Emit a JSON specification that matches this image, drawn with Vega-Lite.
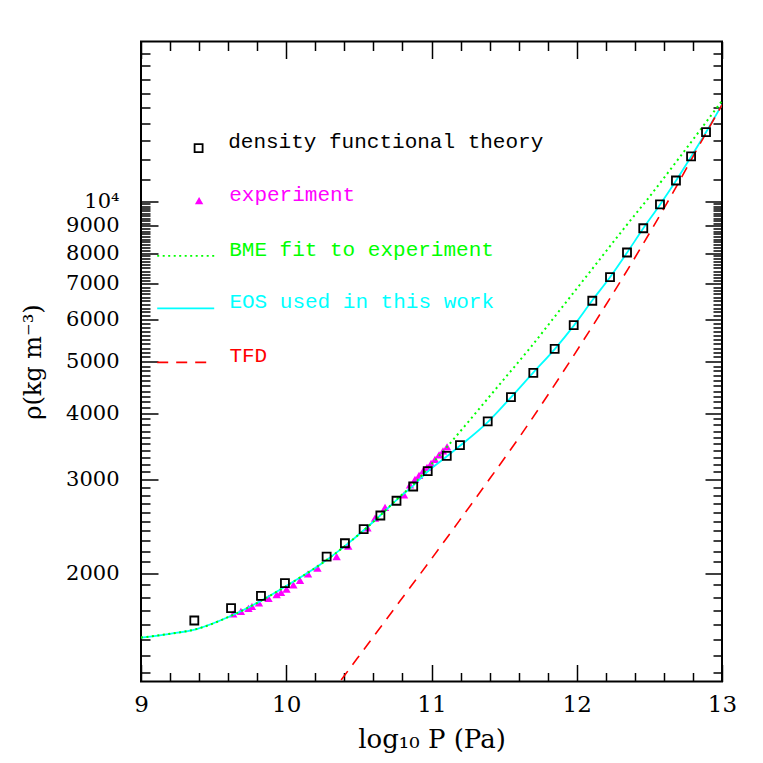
{
  "$schema": "https://vega.github.io/schema/vega-lite/v6.json",
  "width": 581,
  "height": 640,
  "autosize": {"type": "none"},
  "padding": {"left": 141, "top": 41.5, "right": 41, "bottom": 81.5},
  "background": "white",
  "config": {
    "view": {"stroke": "black", "strokeWidth": 2},
    "axis": {
      "grid": false, "domain": false,
      "labelFont": "DejaVu Serif", "labelFontSize": 21, "labelColor": "black",
      "titleFont": "DejaVu Serif", "titleFontSize": 24, "titleFontWeight": "normal", "titleColor": "black",
      "tickColor": "black", "tickWidth": 1.5,
      "labelFlush": false, "labelOverlap": false, "labelBound": false
    },
    "legend": {
      "orient": "none", "title": null, "padding": 0,
      "labelFont": "Liberation Mono", "labelFontSize": 21, "labelBaseline": "alphabetic", "labelLimit": 500
    }
  },
  "data": {
    "values": [
      {"series": "DFT", "logP": 9.367, "rho": 1628},
      {"series": "DFT", "logP": 9.620, "rho": 1718},
      {"series": "DFT", "logP": 9.826, "rho": 1812},
      {"series": "DFT", "logP": 9.991, "rho": 1914},
      {"series": "DFT", "logP": 10.278, "rho": 2148},
      {"series": "DFT", "logP": 10.404, "rho": 2275},
      {"series": "DFT", "logP": 10.533, "rho": 2419},
      {"series": "DFT", "logP": 10.648, "rho": 2566},
      {"series": "DFT", "logP": 10.759, "rho": 2735},
      {"series": "DFT", "logP": 10.874, "rho": 2909},
      {"series": "DFT", "logP": 10.974, "rho": 3110},
      {"series": "DFT", "logP": 11.105, "rho": 3323},
      {"series": "DFT", "logP": 11.196, "rho": 3481},
      {"series": "DFT", "logP": 11.387, "rho": 3859},
      {"series": "DFT", "logP": 11.547, "rho": 4285},
      {"series": "DFT", "logP": 11.701, "rho": 4761},
      {"series": "DFT", "logP": 11.848, "rho": 5283},
      {"series": "DFT", "logP": 11.979, "rho": 5854},
      {"series": "DFT", "logP": 12.107, "rho": 6505},
      {"series": "DFT", "logP": 12.229, "rho": 7208},
      {"series": "DFT", "logP": 12.346, "rho": 8017},
      {"series": "DFT", "logP": 12.458, "rho": 8906},
      {"series": "DFT", "logP": 12.573, "rho": 9879},
      {"series": "DFT", "logP": 12.683, "rho": 10952},
      {"series": "DFT", "logP": 12.787, "rho": 12154},
      {"series": "DFT", "logP": 12.890, "rho": 13509},

      {"series": "experiment", "logP": 9.635, "rho": 1676},
      {"series": "experiment", "logP": 9.688, "rho": 1694},
      {"series": "experiment", "logP": 9.740, "rho": 1716},
      {"series": "experiment", "logP": 9.764, "rho": 1730},
      {"series": "experiment", "logP": 9.812, "rho": 1758},
      {"series": "experiment", "logP": 9.878, "rho": 1792},
      {"series": "experiment", "logP": 9.934, "rho": 1822},
      {"series": "experiment", "logP": 9.964, "rho": 1839},
      {"series": "experiment", "logP": 10.002, "rho": 1866},
      {"series": "experiment", "logP": 10.049, "rho": 1900},
      {"series": "experiment", "logP": 10.095, "rho": 1938},
      {"series": "experiment", "logP": 10.150, "rho": 1992},
      {"series": "experiment", "logP": 10.215, "rho": 2043},
      {"series": "experiment", "logP": 10.347, "rho": 2148},
      {"series": "experiment", "logP": 10.427, "rho": 2246},
      {"series": "experiment", "logP": 10.559, "rho": 2433},
      {"series": "experiment", "logP": 10.611, "rho": 2537},
      {"series": "experiment", "logP": 10.680, "rho": 2657},
      {"series": "experiment", "logP": 10.811, "rho": 2807},
      {"series": "experiment", "logP": 10.852, "rho": 2931},
      {"series": "experiment", "logP": 10.886, "rho": 3001},
      {"series": "experiment", "logP": 10.914, "rho": 3054},
      {"series": "experiment", "logP": 10.942, "rho": 3113},
      {"series": "experiment", "logP": 10.969, "rho": 3162},
      {"series": "experiment", "logP": 10.997, "rho": 3217},
      {"series": "experiment", "logP": 11.024, "rho": 3273},
      {"series": "experiment", "logP": 11.052, "rho": 3337},
      {"series": "experiment", "logP": 11.079, "rho": 3396},
      {"series": "experiment", "logP": 11.107, "rho": 3455},

      {"series": "EOS", "logP": 9.0, "rho": 1512},
      {"series": "EOS", "logP": 9.2, "rho": 1537},
      {"series": "EOS", "logP": 9.383, "rho": 1569},
      {"series": "EOS", "logP": 9.613, "rho": 1658},
      {"series": "EOS", "logP": 9.819, "rho": 1769},
      {"series": "EOS", "logP": 10.025, "rho": 1909},
      {"series": "EOS", "logP": 10.232, "rho": 2073},
      {"series": "EOS", "logP": 10.439, "rho": 2289},
      {"series": "EOS", "logP": 10.645, "rho": 2563},
      {"series": "EOS", "logP": 10.783, "rho": 2782},
      {"series": "EOS", "logP": 10.873, "rho": 2918},
      {"series": "EOS", "logP": 10.976, "rho": 3108},
      {"series": "EOS", "logP": 11.107, "rho": 3316},
      {"series": "EOS", "logP": 11.196, "rho": 3470},
      {"series": "EOS", "logP": 11.389, "rho": 3850},
      {"series": "EOS", "logP": 11.547, "rho": 4281},
      {"series": "EOS", "logP": 11.699, "rho": 4761},
      {"series": "EOS", "logP": 11.850, "rho": 5283},
      {"series": "EOS", "logP": 11.981, "rho": 5848},
      {"series": "EOS", "logP": 12.105, "rho": 6505},
      {"series": "EOS", "logP": 12.229, "rho": 7201},
      {"series": "EOS", "logP": 12.346, "rho": 8008},
      {"series": "EOS", "logP": 12.456, "rho": 8884},
      {"series": "EOS", "logP": 12.573, "rho": 9858},
      {"series": "EOS", "logP": 12.683, "rho": 10937},
      {"series": "EOS", "logP": 12.787, "rho": 12137},
      {"series": "EOS", "logP": 12.890, "rho": 13497},
      {"series": "EOS", "logP": 13.0, "rho": 15203},

      {"series": "BME", "logP": 9.0, "rho": 1512},
      {"series": "BME", "logP": 9.2, "rho": 1537},
      {"series": "BME", "logP": 9.383, "rho": 1569},
      {"series": "BME", "logP": 9.613, "rho": 1658},
      {"series": "BME", "logP": 9.819, "rho": 1769},
      {"series": "BME", "logP": 10.025, "rho": 1909},
      {"series": "BME", "logP": 10.232, "rho": 2073},
      {"series": "BME", "logP": 10.439, "rho": 2289},
      {"series": "BME", "logP": 10.645, "rho": 2563},
      {"series": "BME", "logP": 10.783, "rho": 2788},
      {"series": "BME", "logP": 10.873, "rho": 2931},
      {"series": "BME", "logP": 10.990, "rho": 3183},
      {"series": "BME", "logP": 11.107, "rho": 3455},
      {"series": "BME", "logP": 11.265, "rho": 3884},
      {"series": "BME", "logP": 11.472, "rho": 4539},
      {"series": "BME", "logP": 11.678, "rho": 5299},
      {"series": "BME", "logP": 11.885, "rho": 6254},
      {"series": "BME", "logP": 12.091, "rho": 7374},
      {"series": "BME", "logP": 12.318, "rho": 8847},
      {"series": "BME", "logP": 12.484, "rho": 10074},
      {"series": "BME", "logP": 12.711, "rho": 12137},
      {"series": "BME", "logP": 13.0, "rho": 15471},

      {"series": "TFD", "logP": 10.30, "rho": 1178},
      {"series": "TFD", "logP": 10.370, "rho": 1250},
      {"series": "TFD", "logP": 10.577, "rho": 1488},
      {"series": "TFD", "logP": 10.783, "rho": 1771},
      {"series": "TFD", "logP": 10.990, "rho": 2109},
      {"series": "TFD", "logP": 11.196, "rho": 2518},
      {"series": "TFD", "logP": 11.403, "rho": 3014},
      {"series": "TFD", "logP": 11.609, "rho": 3616},
      {"series": "TFD", "logP": 11.816, "rho": 4385},
      {"series": "TFD", "logP": 12.022, "rho": 5352},
      {"series": "TFD", "logP": 12.229, "rho": 6575},
      {"series": "TFD", "logP": 12.435, "rho": 8131},
      {"series": "TFD", "logP": 12.642, "rho": 10162},
      {"series": "TFD", "logP": 12.849, "rho": 12840},
      {"series": "TFD", "logP": 13.0, "rho": 15203}
    ]
  },
  "resolve": {
    "axis": {"x": "independent", "y": "independent"},
    "scale": {"color": "independent"},
    "legend": {"color": "independent"}
  },
  "layer": [
    {
      "transform": [{"filter": "datum.series === 'experiment'"}],
      "mark": {"type": "point", "shape": "triangle-up", "filled": true, "size": 70, "opacity": 1},
      "encoding": {
        "x": {"field": "logP", "type": "quantitative",
          "scale": {"domain": [9, 13], "nice": false, "zero": false},
          "axis": {"orient": "bottom", "values": [9, 10, 11, 12, 13], "ticks": false, "format": "d",
                   "labelFontSize": 23, "labelPadding": 12,
                   "title": "log₁₀ P (Pa)", "titleFontSize": 26, "titlePadding": 10}},
        "y": {"field": "rho", "type": "quantitative",
          "scale": {"type": "log", "domain": [1250, 20000], "nice": false, "zero": false},
          "axis": {"orient": "left", "values": [2000, 3000, 4000, 5000, 6000, 7000, 8000, 9000, 10000],
                   "ticks": false, "format": "d", "labelPadding": 22,
                   "labelExpr": "datum.value === 10000 ? '10⁴' : datum.label",
                   "title": "ρ(kg m⁻³)", "titlePadding": 20}},
        "color": {"field": "series", "type": "nominal",
          "scale": {"range": ["#ff00ff"]},
          "legend": {"legendX": 47.6, "legendY": 148.7, "symbolType": "triangle-up", "symbolSize": 70,
                     "symbolStrokeWidth": 0, "symbolFillColor": "#ff00ff", "symbolOpacity": 1,
                     "labelOffset": 19.6, "labelColor": "#ff00ff", "labelExpr": "'experiment'"}}
      }
    },
    {
      "transform": [{"filter": "datum.series === 'EOS'"}],
      "mark": {"type": "line", "strokeWidth": 1.8, "interpolate": "monotone", "clip": true},
      "encoding": {
        "x": {"field": "logP", "type": "quantitative",
          "axis": {"orient": "bottom", "values": [9, 10, 11, 12, 13], "labels": false, "tickSize": -17, "title": null}},
        "y": {"field": "rho", "type": "quantitative",
          "axis": {"orient": "left", "values": [2000, 3000, 4000, 5000, 6000, 7000, 8000, 9000, 10000], "labels": false, "tickSize": -17, "title": null}},
        "color": {"field": "series", "type": "nominal",
          "scale": {"range": ["#00ffff"]},
          "legend": {"legendX": 15.2, "legendY": 237.4, "symbolType": "stroke", "symbolSize": 3249,
                     "symbolStrokeWidth": 1.6, "symbolStrokeColor": "#00ffff",
                     "labelOffset": 14.2, "labelColor": "#00ffff", "labelExpr": "'EOS used in this work'"}}
      }
    },
    {
      "transform": [{"filter": "datum.series === 'BME'"}],
      "mark": {"type": "line", "strokeWidth": 2, "strokeDash": [2, 3.5], "interpolate": "monotone", "clip": true},
      "encoding": {
        "x": {"field": "logP", "type": "quantitative",
          "axis": {"orient": "bottom", "values": [9.2, 9.4, 9.6, 9.8, 10.2, 10.4, 10.6, 10.8, 11.2, 11.4, 11.6, 11.8, 12.2, 12.4, 12.6, 12.8], "labels": false, "tickSize": -9, "title": null}},
        "y": {"field": "rho", "type": "quantitative",
          "axis": {"orient": "left", "values": [1300, 1400, 1500, 1600, 1700, 1800, 1900, 2100, 2200, 2300, 2400, 2500, 2600, 2700, 2800, 2900, 3100, 3200, 3300, 3400, 3500, 3600, 3700, 3800, 3900, 4100, 4200, 4300, 4400, 4500, 4600, 4700, 4800, 4900, 5100, 5200, 5300, 5400, 5500, 5600, 5700, 5800, 5900, 6100, 6200, 6300, 6400, 6500, 6600, 6700, 6800, 6900, 7100, 7200, 7300, 7400, 7500, 7600, 7700, 7800, 7900, 8100, 8200, 8300, 8400, 8500, 8600, 8700, 8800, 8900, 9100, 9200, 9300, 9400, 9500, 9600, 9700, 9800, 9900, 11000, 12000, 13000, 14000, 15000, 16000, 17000, 18000, 19000], "labels": false, "tickSize": -9, "title": null}},
        "color": {"field": "series", "type": "nominal",
          "scale": {"range": ["#00ff00"]},
          "legend": {"legendX": 15.2, "legendY": 184.8, "symbolType": "stroke", "symbolSize": 3249,
                     "symbolStrokeWidth": 1.8, "symbolStrokeColor": "#00ff00", "symbolDash": [2, 3.5],
                     "labelOffset": 14.0, "labelColor": "#00ff00", "labelExpr": "'BME fit to experiment'"}}
      }
    },
    {
      "transform": [{"filter": "datum.series === 'TFD'"}],
      "mark": {"type": "line", "strokeWidth": 1.6, "strokeDash": [11, 8], "interpolate": "monotone", "clip": true},
      "encoding": {
        "x": {"field": "logP", "type": "quantitative",
          "axis": {"orient": "top", "values": [9, 10, 11, 12, 13], "labels": false, "tickSize": -17, "title": null}},
        "y": {"field": "rho", "type": "quantitative",
          "axis": {"orient": "right", "values": [2000, 3000, 4000, 5000, 6000, 7000, 8000, 9000, 10000], "labels": false, "tickSize": -17, "title": null}},
        "color": {"field": "series", "type": "nominal",
          "scale": {"range": ["#ff0000"]},
          "legend": {"legendX": 15.2, "legendY": 291.4, "symbolType": "stroke", "symbolSize": 3249,
                     "symbolStrokeWidth": 1.6, "symbolStrokeColor": "#ff0000", "symbolDash": [11, 8],
                     "labelOffset": 14.2, "labelColor": "#ff0000", "labelExpr": "'TFD'"}}
      }
    },
    {
      "transform": [{"filter": "datum.series === 'DFT'"}],
      "mark": {"type": "point", "shape": "square", "filled": false, "size": 64, "strokeWidth": 1.8, "opacity": 1},
      "encoding": {
        "x": {"field": "logP", "type": "quantitative",
          "axis": {"orient": "top", "values": [9.2, 9.4, 9.6, 9.8, 10.2, 10.4, 10.6, 10.8, 11.2, 11.4, 11.6, 11.8, 12.2, 12.4, 12.6, 12.8], "labels": false, "tickSize": -9, "title": null}},
        "y": {"field": "rho", "type": "quantitative",
          "axis": {"orient": "right", "values": [1300, 1400, 1500, 1600, 1700, 1800, 1900, 2100, 2200, 2300, 2400, 2500, 2600, 2700, 2800, 2900, 3100, 3200, 3300, 3400, 3500, 3600, 3700, 3800, 3900, 4100, 4200, 4300, 4400, 4500, 4600, 4700, 4800, 4900, 5100, 5200, 5300, 5400, 5500, 5600, 5700, 5800, 5900, 6100, 6200, 6300, 6400, 6500, 6600, 6700, 6800, 6900, 7100, 7200, 7300, 7400, 7500, 7600, 7700, 7800, 7900, 8100, 8200, 8300, 8400, 8500, 8600, 8700, 8800, 8900, 9100, 9200, 9300, 9400, 9500, 9600, 9700, 9800, 9900, 11000, 12000, 13000, 14000, 15000, 16000, 17000, 18000, 19000], "labels": false, "tickSize": -9, "title": null}},
        "color": {"field": "series", "type": "nominal",
          "scale": {"range": ["black"]},
          "legend": {"legendX": 47.1, "legendY": 96.2, "symbolType": "square", "symbolSize": 64,
                     "symbolStrokeWidth": 1.8, "symbolStrokeColor": "black", "symbolFillColor": "transparent",
                     "labelOffset": 19.1, "labelColor": "black", "labelExpr": "'density functional theory'"}}
      }
    }
  ]
}
